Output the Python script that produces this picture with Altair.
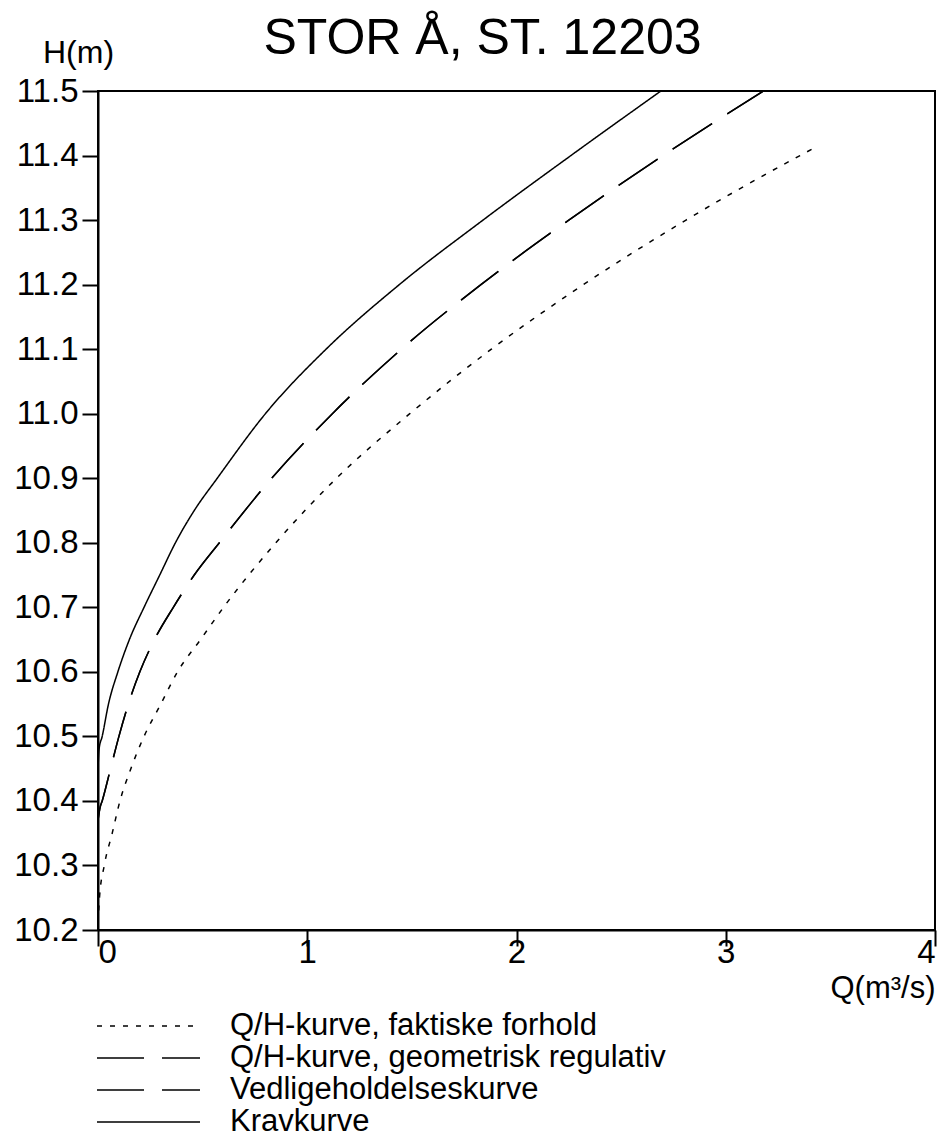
import altair as alt
import pandas as pd

TITLE = "STOR Å, ST. 12203"
SERIES = [
    "Q/H-kurve, faktiske forhold",
    "Q/H-kurve, geometrisk regulativ",
    "Vedligeholdelseskurve",
    "Kravkurve",
]

# Q/H-kurve, faktiske forhold (dotted)
q_faktisk = [0.0, 0.007, 0.03, 0.068, 0.105, 0.157, 0.22, 0.30, 0.38, 0.49, 0.60, 0.85, 1.14, 1.49, 1.88, 2.32, 2.81, 3.355, 3.436]
h_faktisk = [10.21, 10.25, 10.30, 10.35, 10.40, 10.45, 10.50, 10.55, 10.60, 10.65, 10.70, 10.80, 10.90, 11.00, 11.10, 11.20, 11.30, 11.40, 11.414]

# Q/H-kurve, geometrisk regulativ (dashed)
q_geom = [0.0, 0.01, 0.02, 0.06, 0.10, 0.145, 0.20, 0.27, 0.36, 0.46, 0.58, 0.83, 1.12, 1.45, 1.83, 2.25, 2.70, 3.18]
h_geom = [10.37, 10.39, 10.40, 10.45, 10.50, 10.55, 10.60, 10.65, 10.70, 10.75, 10.80, 10.90, 11.00, 11.10, 11.20, 11.30, 11.40, 11.50]

# Vedligeholdelseskurve (dashed, coincides with the geometric curve)
q_vedl = [0.0, 0.01, 0.02, 0.06, 0.10, 0.145, 0.20, 0.27, 0.36, 0.46, 0.58, 0.83, 1.12, 1.45, 1.83, 2.25, 2.70, 3.18]
h_vedl = [10.37, 10.39, 10.40, 10.45, 10.50, 10.55, 10.60, 10.65, 10.70, 10.75, 10.80, 10.90, 11.00, 11.10, 11.20, 11.30, 11.40, 11.50]

# Kravkurve (solid)
q_krav = [0.0, 0.005, 0.02, 0.05, 0.095, 0.15, 0.22, 0.295, 0.37, 0.46, 0.57, 0.80, 1.09, 1.44, 1.84, 2.26, 2.69]
h_krav = [10.45, 10.48, 10.50, 10.55, 10.60, 10.65, 10.70, 10.75, 10.80, 10.85, 10.90, 11.00, 11.10, 11.20, 11.30, 11.40, 11.50]

x_ticks = [0, 1, 2, 3, 4]
y_ticks = [10.2, 10.3, 10.4, 10.5, 10.6, 10.7, 10.8, 10.9, 11.0, 11.1, 11.2, 11.3, 11.4, 11.5]

rows = []
for name, qs, hs in zip(SERIES, [q_faktisk, q_geom, q_vedl, q_krav], [h_faktisk, h_geom, h_vedl, h_krav]):
    for i, (q, h) in enumerate(zip(qs, hs)):
        rows.append({"series": name, "Q": q, "H": h, "order": i})
df = pd.DataFrame(rows)

FONT = "Liberation Sans, Arial, sans-serif"

chart = alt.Chart(df).mark_line(
    color="black", strokeWidth=1.5, clip=True, interpolate="monotone"
).encode(
    x=alt.X(
        "Q:Q",
        scale=alt.Scale(domain=[0, 4], nice=False, zero=False),
        axis=alt.Axis(
            values=x_ticks, format="d", grid=False,
            labelFontSize=33, labelFont=FONT, labelColor="black", labelPadding=-10,
            tickSize=16, tickColor="black", tickWidth=2,
            domainColor="black", domainWidth=2,
            title="Q(m³/s)", titleFont=FONT, titleFontSize=31, titleFontWeight="normal",
            titleColor="black", titleAnchor="end", titleAlign="right", titleX=837, titleY=67,
            titleBaseline="alphabetic",
        ),
    ),
    y=alt.Y(
        "H:Q",
        scale=alt.Scale(domain=[10.2, 11.5], nice=False, zero=False),
        axis=alt.Axis(
            values=y_ticks, format=".1f", grid=False,
            labelFontSize=33, labelFont=FONT, labelColor="black", labelPadding=4,
            tickSize=16, tickColor="black", tickWidth=2,
            domainColor="black", domainWidth=2,
            title="H(m)", titleFont=FONT, titleFontSize=32, titleFontWeight="normal",
            titleColor="black", titleAngle=0, titleX=-20, titleY=-29,
            titleAlign="center", titleBaseline="alphabetic",
        ),
    ),
    strokeDash=alt.StrokeDash(
        "series:N",
        scale=alt.Scale(domain=SERIES, range=[[5, 8], [47, 18], [47, 18], [1, 0]]),
        legend=alt.Legend(
            orient="none", legendX=-2, legendY=919, title=None,
            symbolType="stroke", symbolSize=10609, symbolStrokeWidth=1.5,
            symbolStrokeColor="black",
            labelFont=FONT, labelFontSize=31, labelColor="black", labelOffset=29,
            labelLimit=800, clipHeight=32, rowPadding=0, padding=0,
            direction="vertical",
        ),
    ),
    detail="series:N",
    order="order:Q",
).properties(
    width=837,
    height=839,
    background="white",
    padding={"left": 98, "top": 91, "right": 14, "bottom": 218},
    autosize=alt.AutoSizeParams(type="none"),
    title=alt.TitleParams(
        text=TITLE, font=FONT, fontSize=50, fontWeight="normal", color="black",
        anchor="middle", dx=-34, dy=32,
    ),
).configure_view(
    stroke="black", strokeWidth=2
)

chart.save("out.html", embed_options={"renderer": "svg", "actions": False})
